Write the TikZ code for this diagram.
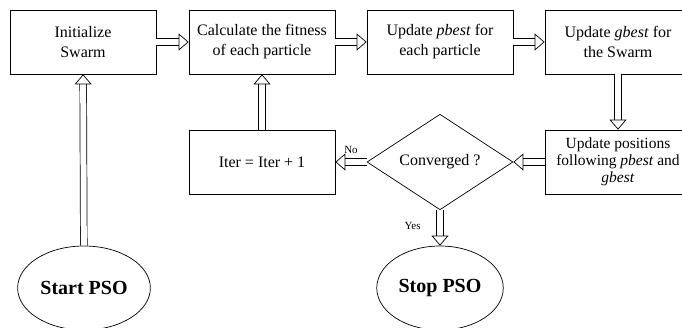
\documentclass[tikz,border=0pt]{standalone}
\usepackage{fontspec}
\setmainfont{Liberation Serif}
\usetikzlibrary{positioning,shapes.geometric,arrows.meta}

\tikzset{
  stepbox/.style={draw, line width=0.7pt, rectangle, minimum width=146pt, minimum height=64pt,
    align=center, inner sep=2pt, font=\fontsize{16}{20}\selectfont},
  decision/.style={draw, line width=0.7pt, diamond, minimum width=146pt, minimum height=90pt,
    inner sep=0pt, font=\fontsize{16}{20}\selectfont},
  terminal/.style={draw, line width=0.7pt, ellipse, minimum width=124pt, minimum height=84pt,
    font=\fontsize{20}{24}\selectfont\bfseries},
  flow/.style={double, double distance=6pt, line width=0.7pt,
    -{Triangle[open, length=10pt, width=17pt]}},
  lbl/.style={font=\fontsize{11}{13}\selectfont, inner sep=1pt}
}

\begin{document}
\begin{tikzpicture}[x=1pt, y=-1pt]
    % Canvas, the right column is cut off by the page edge
    \useasboundingbox (0,0) rectangle (682,328);
    \clip (0,0) rectangle (682,328);

    % Top row
    \node[stepbox] (init) at (83,42) {Initialize\\Swarm};
    \node[stepbox] (calc) at (262,42) {Calculate the fitness\\of each particle};
    \node[stepbox] (pbest) at (440,42) {Update \emph{pbest} for\\each particle};
    \node[stepbox] (gbest) at (618,42) {Update \emph{gbest} for\\the Swarm};

    % Middle row
    \node[stepbox] (iter) at (262,162) {Iter = Iter + 1};
    \node[decision] (conv) at (440,162) {Converged ?};
    \node[stepbox, font=\fontsize{15.5}{17}\selectfont] (pos) at (618,162)
      {Update positions\\following \emph{pbest} and\\\emph{gbest}};

    % Start and stop
    \node[terminal] (start) at (84,288) {Start PSO};
    \node[terminal] (stop) at (440,288) {Stop PSO};

    % Connectors
    \draw[flow] (start) -- (init);
    \draw[flow] (init) -- (calc);
    \draw[flow] (calc) -- (pbest);
    \draw[flow] (pbest) -- (gbest);
    \draw[flow] (gbest) -- (pos);
    \draw[flow] (pos) -- (conv);
    \draw[flow] (conv) -- node[lbl, above=7pt] {No} (iter);
    \draw[flow] (iter) -- (calc);
    \draw[flow] (conv) -- node[lbl, left=18pt, pos=.45] {Yes} (stop);
\end{tikzpicture}
\end{document}
